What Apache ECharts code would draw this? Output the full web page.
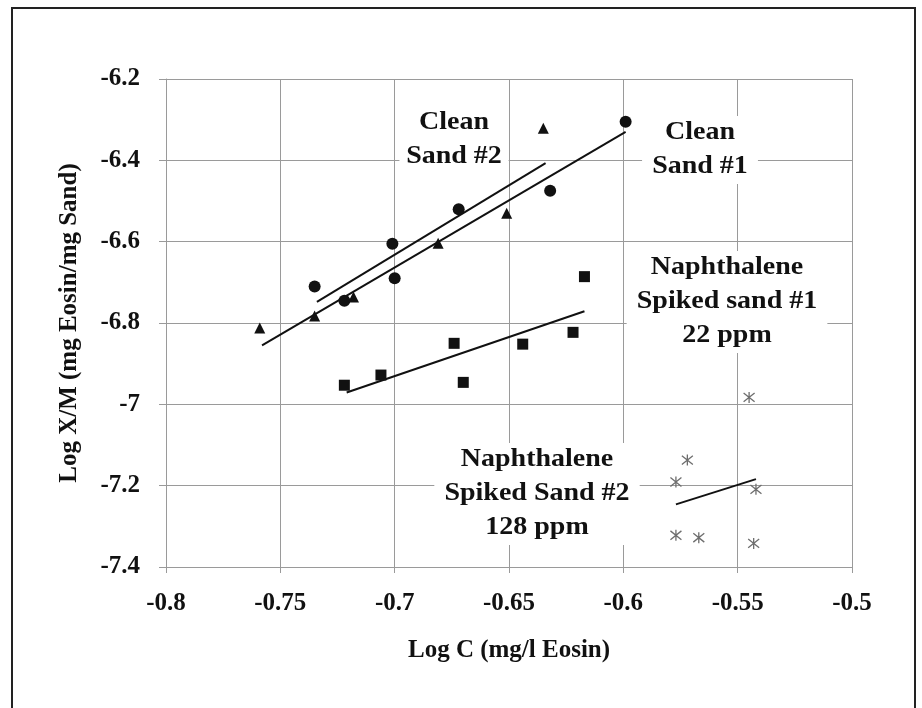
<!DOCTYPE html>
<html>
<head>
<meta charset="utf-8">
<script src="https://cdn.jsdelivr.net/npm/echarts@6/dist/echarts.min.js"></script>
<style>
  html, body { margin: 0; padding: 0; background: #fff; }
  #chart { width: 922px; height: 708px; }
</style>
</head>
<body>
<div id="chart"></div>
<script>
// points
const sand1X = [-0.735, -0.722, -0.701, -0.700, -0.672, -0.632, -0.599];
const sand1Y = [-6.71, -6.745, -6.605, -6.69, -6.52, -6.475, -6.305];
const sand2X = [-0.759, -0.735, -0.718, -0.681, -0.651, -0.635];
const sand2Y = [-6.812, -6.783, -6.736, -6.604, -6.53, -6.321];
const spiked1X = [-0.722, -0.706, -0.674, -0.670, -0.644, -0.622, -0.617];
const spiked1Y = [-6.953, -6.928, -6.85, -6.946, -6.852, -6.823, -6.686];
const spiked2X = [-0.545, -0.572, -0.577, -0.542, -0.577, -0.567, -0.543];
const spiked2Y = [-6.983, -7.137, -7.191, -7.209, -7.322, -7.328, -7.342];

// fitted lines (end points as drawn)
const fit1X = [-0.758, -0.599], fit1Y = [-6.855, -6.33];
const fit2X = [-0.734, -0.634], fit2Y = [-6.748, -6.407];
const fit3X = [-0.721, -0.617], fit3Y = [-6.971, -6.771];
const fit4X = [-0.577, -0.542], fit4Y = [-7.246, -7.184];

const xTicks = [-0.8, -0.75, -0.7, -0.65, -0.6, -0.55, -0.5];
const yTicks = [-7.4, -7.2, -7, -6.8, -6.6, -6.4, -6.2];

const FONT = '"Liberation Serif", "Times New Roman", serif';
const gridColor = '#9a9a9a';
const ink = '#111';

function pairs(xs, ys) {
  return xs.map((x, i) => [x, ys[i]]);
}

function fitLine(xs, ys) {
  return {
    type: 'line',
    data: pairs(xs, ys),
    showSymbol: false,
    silent: true,
    z: 2,
    lineStyle: { color: ink, width: 2 }
  };
}

function note(text, x, y, pad) {
  return {
    type: 'text',
    x: x,
    y: y,
    z: 1,
    scaleX: 1.12,
    style: {
      text: text,
      font: 'bold 25px ' + FONT,
      fill: ink,
      align: 'center',
      verticalAlign: 'top',
      lineHeight: 34,
      backgroundColor: '#fff',
      padding: pad || [0, 9]
    }
  };
}

const chart = echarts.init(document.getElementById('chart'));
chart.setOption({
  animation: false,
  backgroundColor: '#fff',
  grid: {
    left: 166,
    right: 70,
    top: 79,
    bottom: 141,
    outerBoundsMode: 'none'
  },
  xAxis: {
    type: 'value',
    min: xTicks[0],
    max: xTicks[xTicks.length - 1],
    interval: 0.05,
    name: 'Log C (mg/l Eosin)',
    nameLocation: 'middle',
    nameGap: 71,
    nameTextStyle: { fontFamily: FONT, fontWeight: 'bold', fontSize: 25, color: ink },
    axisLine: { lineStyle: { color: gridColor, width: 1 } },
    axisTick: { show: true, length: 6, lineStyle: { color: gridColor } },
    axisLabel: {
      margin: 24,
      fontFamily: FONT,
      fontWeight: 'bold',
      fontSize: 25,
      color: ink,
      formatter: v => String(+v.toFixed(2))
    },
    splitLine: { show: true, lineStyle: { color: gridColor, width: 1 } }
  },
  yAxis: {
    type: 'value',
    min: yTicks[0],
    max: yTicks[yTicks.length - 1],
    interval: 0.2,
    name: 'Log X/M (mg Eosin/mg Sand)',
    nameLocation: 'middle',
    nameGap: 84,
    nameTextStyle: { fontFamily: FONT, fontWeight: 'bold', fontSize: 25, color: ink },
    axisLine: { show: true, lineStyle: { color: gridColor, width: 1 } },
    axisTick: { show: true, length: 7, lineStyle: { color: gridColor } },
    axisLabel: {
      margin: 26,
      fontFamily: FONT,
      fontWeight: 'bold',
      fontSize: 25,
      color: ink,
      formatter: v => String(+v.toFixed(1))
    },
    splitLine: { show: true, lineStyle: { color: gridColor, width: 1 } }
  },
  graphic: [
    {
      type: 'rect',
      z: 0,
      shape: { x: 12, y: 8, width: 903, height: 720 },
      style: { fill: 'none', stroke: '#222', lineWidth: 2 }
    },
    note('Clean\nSand #2', 454, 106, [0, 6]),
    note('Clean\nSand #1', 700, 116),
    note('Naphthalene\nSpiked sand #1\n22 ppm', 727, 251),
    note('Naphthalene\nSpiked Sand #2\n128 ppm', 537, 443)
  ],
  series: [
    fitLine(fit1X, fit1Y),
    fitLine(fit2X, fit2Y),
    fitLine(fit3X, fit3Y),
    fitLine(fit4X, fit4Y),
    {
      name: 'Clean Sand #1',
      type: 'scatter',
      data: pairs(sand1X, sand1Y),
      symbol: 'circle',
      symbolSize: 12,
      z: 3,
      itemStyle: { color: ink, opacity: 1 }
    },
    {
      name: 'Clean Sand #2',
      type: 'scatter',
      data: pairs(sand2X, sand2Y),
      symbol: 'triangle',
      symbolSize: 11,
      z: 3,
      itemStyle: { color: ink, opacity: 1 }
    },
    {
      name: 'Naphthalene Spiked sand #1',
      type: 'scatter',
      data: pairs(spiked1X, spiked1Y),
      symbol: 'rect',
      symbolSize: 11,
      z: 3,
      itemStyle: { color: ink, opacity: 1 }
    },
    {
      name: 'Naphthalene Spiked Sand #2',
      type: 'scatter',
      data: pairs(spiked2X, spiked2Y),
      symbol: 'path://M1,1L9,9M9,1L1,9M5,0L5,10',
      symbolSize: 11,
      z: 3,
      itemStyle: { color: 'none', borderColor: '#6e6e6e', borderWidth: 1.3, opacity: 1 }
    }
  ]
});
</script>
</body>
</html>
